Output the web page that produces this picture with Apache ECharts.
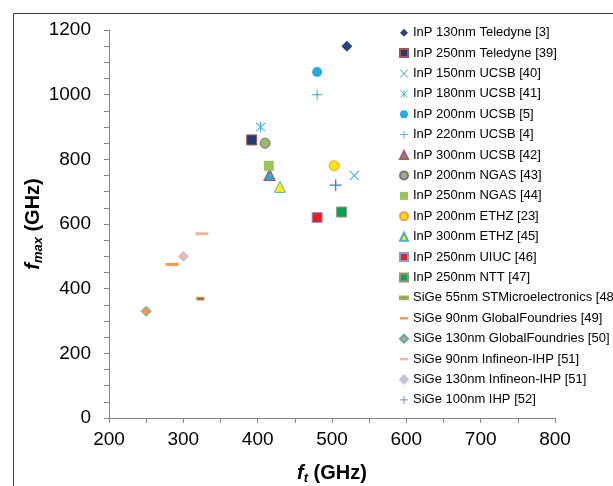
<!DOCTYPE html>
<html>
<head>
<meta charset="utf-8">
<script src="https://cdn.jsdelivr.net/npm/echarts@6/dist/echarts.min.js"></script>
<style>
html,body{margin:0;padding:0;background:#fff;}
#chart{width:613px;height:486px;}
</style>
</head>
<body>
<div id="chart"></div>
<script>
// ---- Data ----
const seriesNames = [
  'InP 130nm Teledyne [3]',
  'InP 250nm Teledyne [39]',
  'InP 150nm UCSB [40]',
  'InP 180nm UCSB [41]',
  'InP 200nm UCSB [5]',
  'InP 220nm UCSB [4]',
  'InP 300nm UCSB [42]',
  'InP 200nm NGAS [43]',
  'InP 250nm NGAS [44]',
  'InP 200nm ETHZ [23]',
  'InP 300nm ETHZ [45]',
  'InP 250nm UIUC [46]',
  'InP 250nm NTT [47]',
  'SiGe 55nm STMicroelectronics [48]',
  'SiGe 90nm GlobalFoundries [49]',
  'SiGe 130nm GlobalFoundries [50]',
  'SiGe 90nm Infineon-IHP [51]',
  'SiGe 130nm Infineon-IHP [51]',
  'SiGe 100nm IHP [52]'
];
const ftValues   = [520, 392, 530, 404, 480, 480, 416, 410, 415, 503, 430, 480, 513, 323, 285, 250, 325, 300, 505];
const fmaxValues = [1150, 860, 750, 900, 1070, 1000, 752, 850, 780, 780, 715, 620, 637, 369, 475, 330, 570, 500, 720];
const xTicks = [200, 300, 400, 500, 600, 700, 800];
const yTicks = [0, 200, 400, 600, 800, 1000, 1200];

// ---- Styles ----
const PLUS = 'path://M0,5.4H12V6.6H0ZM5.4,0H6.6V12H5.4Z';
const CROSS = 'path://M0,0.85L0.85,0L12,11.15L11.15,12ZM11.15,0L12,0.85L0.85,12L0,11.15Z';
const STAR = 'path://M5.4,0H6.6V12H5.4ZM0.5,1.35L1.35,0.5L11.5,10.65L10.65,11.5ZM10.65,0.5L11.5,1.35L1.35,11.5L0.5,10.65Z';
const DASH = 'path://M0,0H10V3H0Z';
const SDASH = 'path://M0,0H7V2.4H0Z';

const styles = [
  {symbol:'diamond', size:11, color:'#22467F'},
  {symbol:'rect', size:10, color:'#1F3F6E', border:'#A65555', bw:1},
  {symbol:CROSS, size:10, color:'#3CAEE3'},
  {symbol:STAR, size:10, color:'#3CAEE3'},
  {symbol:'circle', size:10, color:'#29A9E1'},
  {symbol:PLUS, size:10, color:'#29A9E1'},
  {symbol:'triangle', size:11, color:'#29A9E1', border:'#C0504D', bw:1.2},
  {symbol:'circle', size:10, color:'#9BBB59', border:'#8064A2', bw:1},
  {symbol:'rect', size:10, color:'#9BC55B'},
  {symbol:'circle', size:10, color:'#FFE800', border:'#F79646', bw:1},
  {symbol:'triangle', size:11, color:'#FFF200', border:'#4BACC6', bw:1},
  {symbol:'rect', size:10, color:'#EE1C25', border:'#7F9FD3', bw:1},
  {symbol:'rect', size:10, color:'#00A651', border:'#A08F7F', bw:1},
  {symbol:'rect', size:[7,3], color:'#C0504D', border:'#9BBB59', bw:1, icon:SDASH},
  {symbol:'rect', size:[13,3], color:'#F79646', icon:DASH},
  {symbol:'diamond', size:10, color:'#F79646', border:'#4BACC6', bw:1},
  {symbol:'rect', size:[13,3], color:'#F4B49A', icon:DASH},
  {symbol:'diamond', size:10, color:'#E6B9B8', border:'#B9C9E3', bw:1},
  {symbol:PLUS, size:12, color:'#4472C4'}
];

const FONT = 'Arial, "Liberation Sans", Helvetica, sans-serif';
const axisColor = '#868686';

const series = seriesNames.map((name, i) => {
  const s = styles[i];
  return {
    type: 'scatter',
    name: name,
    symbol: s.symbol,
    symbolSize: s.size,
    itemStyle: {
      color: s.color,
      borderColor: s.border || s.color,
      borderWidth: s.bw || 0,
      opacity: 1
    },
    emphasis: {disabled: true},
    data: [[ftValues[i], fmaxValues[i]]]
  };
});

const legendData = seriesNames.map((name, i) => {
  const d = {name: name};
  if (styles[i].icon) d.icon = styles[i].icon;
  return d;
});

const nameRich = {
  f: {fontFamily: FONT, fontSize: 20, fontWeight: 'bold', fontStyle: 'italic', lineHeight: 20, verticalAlign: 'top', color: '#000'},
  s: {fontFamily: FONT, fontSize: 13, fontWeight: 'bold', fontStyle: 'italic', lineHeight: 13, padding: [9, 0, 0, 0], verticalAlign: 'top', color: '#000'},
  n: {fontFamily: FONT, fontSize: 20, fontWeight: 'bold', lineHeight: 20, verticalAlign: 'top', color: '#000'}
};

const chart = echarts.init(document.getElementById('chart'), null, {renderer: 'canvas'});
chart.setOption({
  animation: false,
  backgroundColor: '#ffffff',
  textStyle: {fontFamily: FONT},
  grid: {left: 109, right: 58, top: 30, bottom: 68, containLabel: false, outerBoundsMode: 'none'},
  xAxis: {
    type: 'value',
    min: 200, max: 800, interval: 50,
    name: '{f|f}{s|t}{n| (GHz)}',
    nameLocation: 'middle',
    nameGap: 45,
    nameMoveOverlap: false,
    nameTextStyle: {rich: nameRich},
    axisLine: {show: true, lineStyle: {color: axisColor, width: 1}},
    axisTick: {show: true, inside: false, length: 5, lineStyle: {color: axisColor}},
    axisLabel: {
      fontFamily: FONT, fontSize: 19, color: '#000', margin: 12,
      formatter: v => xTicks.indexOf(v) >= 0 ? String(v) : ''
    },
    splitLine: {show: false}
  },
  yAxis: {
    type: 'value',
    min: 0, max: 1200, interval: 50,
    name: '{f|f}{s|max}{n| (GHz)}',
    nameLocation: 'middle',
    nameGap: 66,
    nameMoveOverlap: false,
    nameRotate: 90,
    nameTextStyle: {rich: nameRich},
    axisLine: {show: true, lineStyle: {color: axisColor, width: 1}},
    axisTick: {show: true, inside: false, length: 5, lineStyle: {color: axisColor}},
    axisLabel: {
      fontFamily: FONT, fontSize: 19, color: '#000', margin: 18,
      formatter: v => yTicks.indexOf(v) >= 0 ? String(v) : ''
    },
    splitLine: {show: false}
  },
  legend: {
    orient: 'vertical',
    left: 399,
    top: 26.2,
    itemWidth: 8,
    itemHeight: 8,
    itemGap: 7.4,
    selectedMode: false,
    padding: 0,
    textStyle: {fontFamily: FONT, fontSize: 13, color: '#000'},
    data: legendData
  },
  graphic: [
    {type: 'line', shape: {x1: 13.5, y1: 13.5, x2: 613, y2: 13.5}, style: {stroke: '#404040', lineWidth: 1}, silent: true},
    {type: 'line', shape: {x1: 13.5, y1: 13.5, x2: 13.5, y2: 486}, style: {stroke: '#404040', lineWidth: 1}, silent: true}
  ],
  series: series
});
</script>
</body>
</html>
